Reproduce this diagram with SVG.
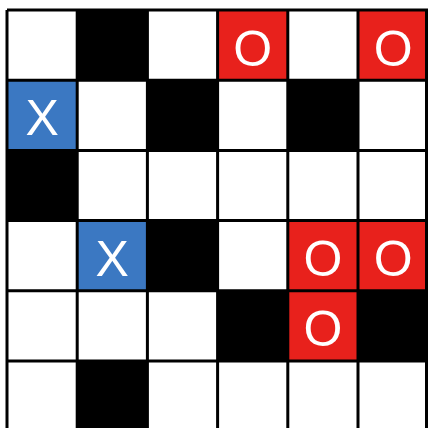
<svg xmlns="http://www.w3.org/2000/svg" width="428" height="428" viewBox="0 0 428 428">
<style>
.w{fill:#ffffff}
.b{fill:#000000}
.r{fill:#e8211c}
.u{fill:#3b78c2}
.t{font-family:"Liberation Sans",Arial,sans-serif;font-size:50px;fill:#ffffff;text-anchor:middle}
.g{stroke:#000;stroke-width:3;fill:none}
</style>
<rect x="0" y="0" width="428" height="428" fill="#ffffff"/>
<g id="cells">
<!-- row 0 -->
<rect class="w" x="7" y="10" width="70.2" height="70.2"/>
<rect class="b" x="77.2" y="10" width="70.2" height="70.2"/>
<rect class="w" x="147.4" y="10" width="70.2" height="70.2"/>
<g id="r0c3"><rect class="r" x="217.6" y="10" width="70.2" height="70.2"/><text class="t" x="252.7" y="66">O</text></g>
<rect class="w" x="287.8" y="10" width="70.2" height="70.2"/>
<g id="r0c5"><rect class="r" x="358" y="10" width="70.2" height="70.2"/><text class="t" x="393.1" y="66">O</text></g>
<!-- row 1 -->
<g id="r1c0"><rect class="u" x="7" y="80.2" width="70.2" height="70.2"/><text class="t" x="42.1" y="135">X</text></g>
<rect class="w" x="77.2" y="80.2" width="70.2" height="70.2"/>
<rect class="b" x="147.4" y="80.2" width="70.2" height="70.2"/>
<rect class="w" x="217.6" y="80.2" width="70.2" height="70.2"/>
<rect class="b" x="287.8" y="80.2" width="70.2" height="70.2"/>
<rect class="w" x="358" y="80.2" width="70.2" height="70.2"/>
<!-- row 2 -->
<rect class="b" x="7" y="150.4" width="70.2" height="70.2"/>
<!-- row 3 -->
<g id="r3c1"><rect class="u" x="77.2" y="220.6" width="70.2" height="70.2"/><text class="t" x="112.3" y="276">X</text></g>
<rect class="b" x="147.4" y="220.6" width="70.2" height="70.2"/>
<g id="r3c4"><rect class="r" x="287.8" y="220.6" width="70.2" height="70.2"/><text class="t" x="322.9" y="276">O</text></g>
<g id="r3c5"><rect class="r" x="358" y="220.6" width="70.2" height="70.2"/><text class="t" x="393.1" y="276">O</text></g>
<!-- row 4 -->
<rect class="b" x="217.6" y="290.8" width="70.2" height="70.2"/>
<g id="r4c4"><rect class="r" x="287.8" y="290.8" width="70.2" height="70.2"/><text class="t" x="322.9" y="346">O</text></g>
<rect class="b" x="358" y="290.8" width="70.2" height="70.2"/>
<!-- row 5 -->
<rect class="b" x="77.2" y="361" width="70.2" height="70.2"/>
</g>
<g id="grid" class="g">
<path d="M7 10V431M77.2 10V431M147.4 10V431M217.6 10V431M287.8 10V431M358 10V431M426.5 10V431"/>
<path d="M7 10H428M7 80.2H428M7 150.4H428M7 220.6H428M7 290.8H428M7 361H428"/>
</g>
</svg>
